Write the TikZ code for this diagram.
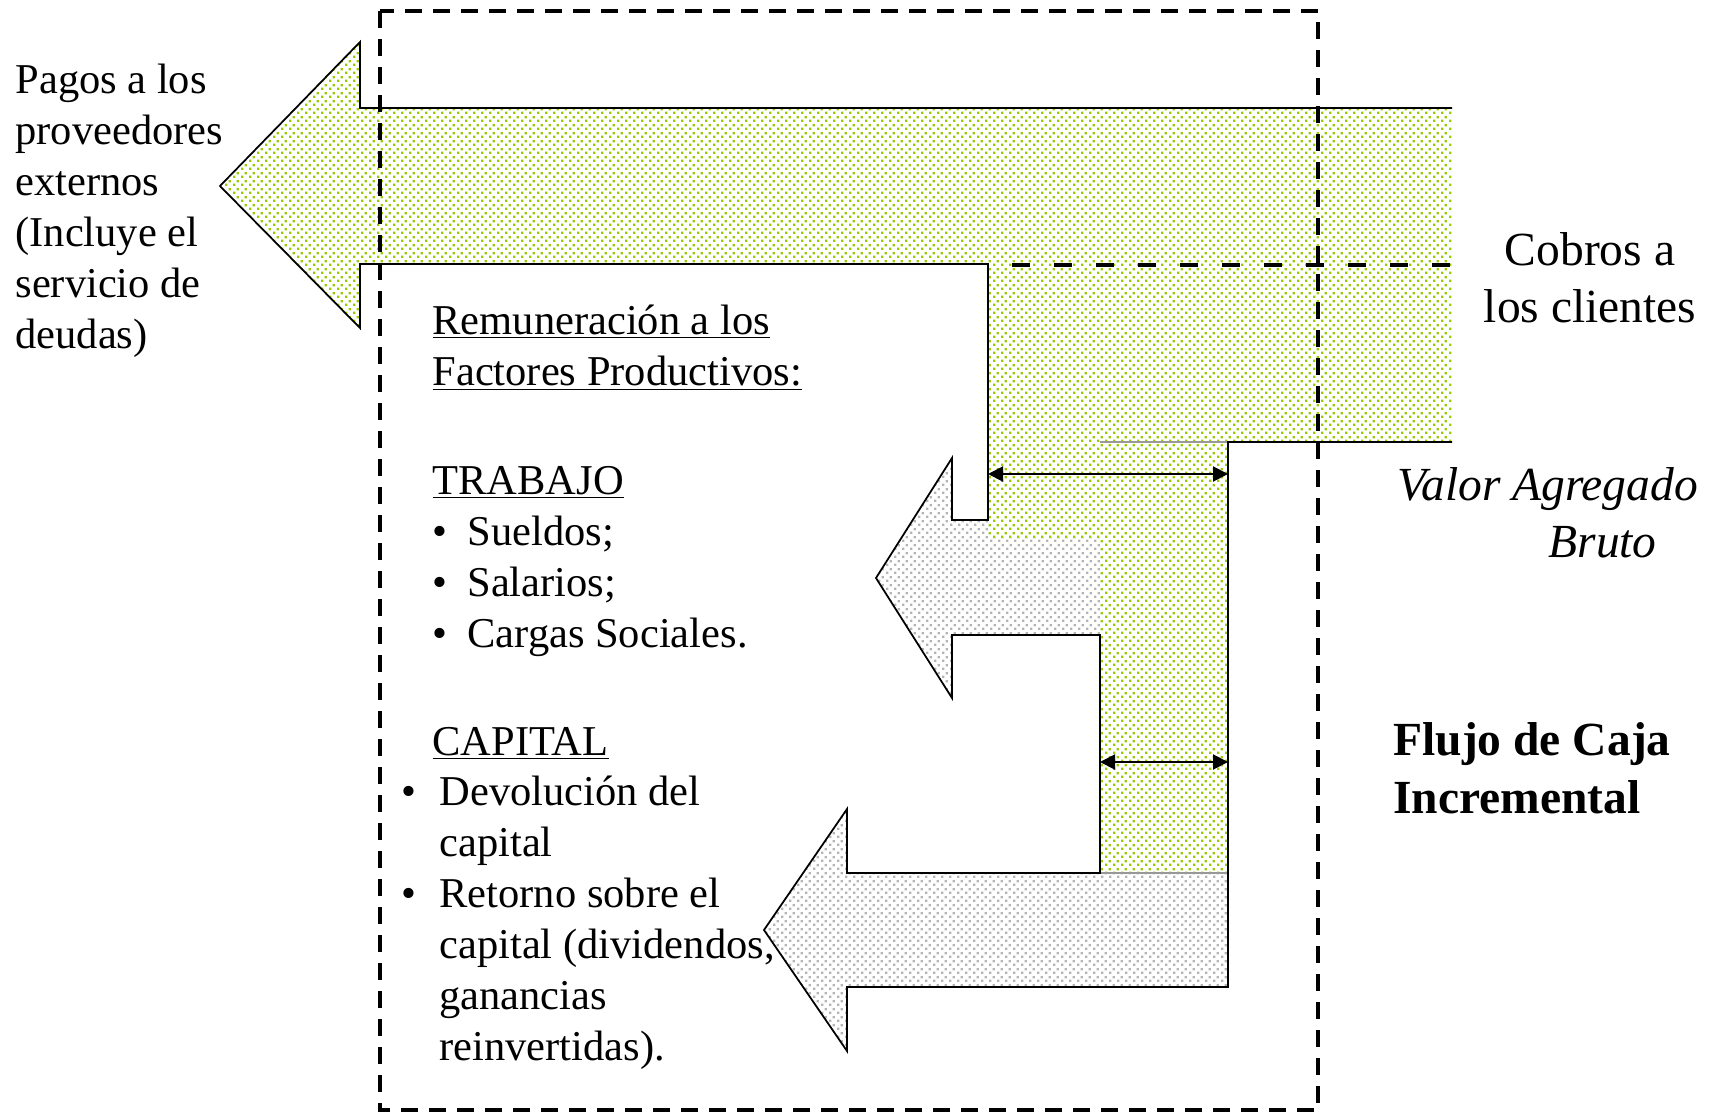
\documentclass[tikz,border=0pt]{standalone}
\usepackage{fontspec}
\setmainfont{Liberation Serif}
\usetikzlibrary{arrows.meta}
\usetikzlibrary{patterns}
\usetikzlibrary{positioning}
\definecolor{dotgreen}{RGB}{150,204,0}
\definecolor{dotgray}{RGB}{180,180,180}
\pgfdeclarepatternformonly{flow dots}{\pgfqpoint{0pt}{0pt}}{\pgfqpoint{3pt}{3pt}}{\pgfqpoint{3pt}{3pt}}{%
  \pgfpathrectangle{\pgfqpoint{0pt}{0pt}}{\pgfqpoint{1pt}{1pt}}%
  \pgfpathrectangle{\pgfqpoint{1.5pt}{1.5pt}}{\pgfqpoint{1pt}{1pt}}%
  \pgfusepath{fill}}
\tikzset{
  >=latex,
  flow green/.style={fill=white,postaction={pattern=flow dots,pattern color=dotgreen}},
  flow gray/.style={fill=white,postaction={pattern=flow dots,pattern color=dotgray}},
  outline/.style={line width=0.7pt,line join=miter},
  seam/.style={line width=0.5pt,black!40},
  frame/.style={line width=1.5pt,dash pattern=on 6.6pt off 4.6pt},
  split/.style={line width=1.5pt,dash pattern=on 7.2pt off 9.6pt},
  measure/.style={{Triangle[length=6pt,width=6pt]}-{Triangle[length=6pt,width=6pt]},line width=0.8pt},
  body/.style={font=\fontsize{17}{20.4}\selectfont,inner sep=0pt,align=left,anchor=base west},
  big/.style={font=\fontsize{19}{22.6}\selectfont,inner sep=0pt,anchor=base west}
}
\newcommand\bul[1]{\makebox[14pt][l]{\textbullet}#1}

\begin{document}
\begin{tikzpicture}[x=0.4pt,y=-0.4pt]
    \useasboundingbox (0,0) rectangle (1716,1114);

    % ------- flows -------
    \fill[flow gray] (876,578) -- (952,458) -- (952,520) -- (1100,520)
        -- (1100,635) -- (952,635) -- (952,698) -- cycle;
    \fill[flow gray] (764,930) -- (847,809) -- (847,873) -- (1228,873)
        -- (1228,987) -- (847,987) -- (847,1051) -- cycle;
    \fill[flow green] (220,186) -- (360,42) -- (360,108) -- (1452,108)
        -- (1452,442) -- (1228,442) -- (1228,873) -- (1100,873) -- (1100,538)
        -- (988,538) -- (988,264) -- (360,264) -- (360,328) -- cycle;

    \draw[seam] (1100,442) -- (1228,442) (1100,873) -- (1228,873);
    \draw[outline] (1452,108) -- (360,108) -- (360,42) -- (220,186) -- (360,328)
        -- (360,264) -- (988,264) -- (988,520) -- (952,520) -- (952,458)
        -- (876,578) -- (952,698) -- (952,635) -- (1100,635) -- (1100,873)
        -- (847,873) -- (847,809) -- (764,930) -- (847,1051) -- (847,987)
        -- (1228,987) -- (1228,442) -- (1452,442);

    % ------- dashed lines -------
    \draw[split] (1012,265) -- (1452,265);
    \draw[frame] (380,11) rectangle (1318,1110);

    % ------- widths -------
    \coordinate (trabajo-l) at (988,474);
    \coordinate (trabajo-r) at (1228,474);
    \coordinate (capital-l) at (1100,762);
    \coordinate (capital-r) at (1228,762);
    \draw[measure] (trabajo-l) -- (trabajo-r);
    \draw[measure] (capital-l) -- (capital-r);

    % ------- labels (anchored at the baseline of their last line) -------
    \node[body] (pagos) at (15,348) {Pagos a los\\proveedores\\externos\\(Incluye el\\servicio de\\deudas)};
    \node[body] (factores) at (432,385) {\underline{Remuneración a los}\\\underline{Factores Productivos:}};
    \node[body] (trabajo) at (432,647) {\underline{TRABAJO}\\\bul{Sueldos;}\\\bul{Salarios;}\\\bul{Cargas Sociales.}};
    \node[body] (capital) at (432,755) {\underline{CAPITAL}};
    \node[body] (capital-items) at (401,1060) {\makebox[15.2pt][l]{\textbullet}Devolución del\\\hspace*{15.2pt}capital\\\makebox[15.2pt][l]{\textbullet}Retorno sobre el\\\hspace*{15.2pt}capital (dividendos,\\\hspace*{15.2pt}ganancias\\\hspace*{15.2pt}reinvertidas).};
    \node[big,align=center,anchor=base] (cobros) at (1590,322) {Cobros a\\los clientes};
    \node[big,align=left] (valor) at (1397,557) {\itshape Valor Agregado\\\hspace*{60.4pt}\itshape Bruto};
    \node[big,align=left,font=\fontsize{19}{23}\selectfont\bfseries] (flujo) at (1393,813) {Flujo de Caja\\Incremental};
\end{tikzpicture}
\end{document}
